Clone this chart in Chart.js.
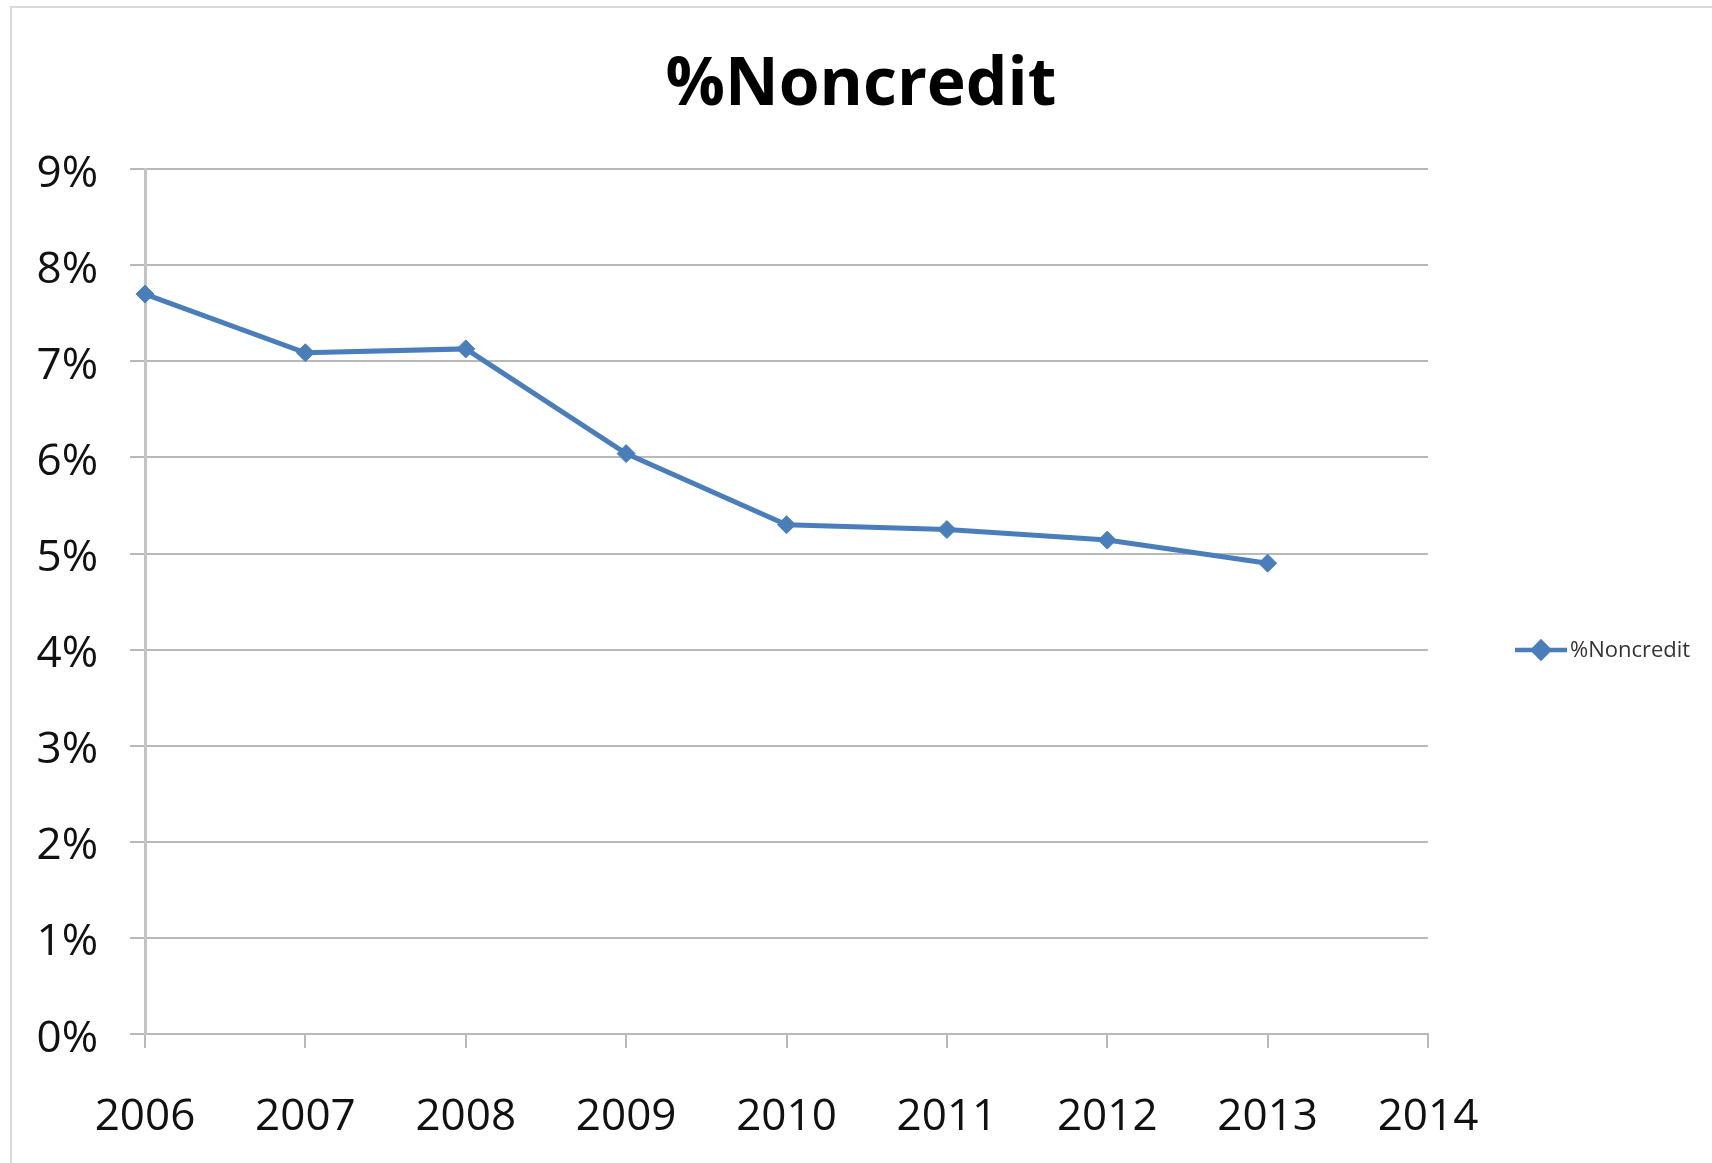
<!DOCTYPE html>
<html>
<head>
<meta charset="utf-8">
<script src="https://cdn.jsdelivr.net/npm/chart.js@4/dist/chart.umd.min.js"></script>
<style>
  html, body { margin: 0; padding: 0; background: #fff; }
  #wrap { position: relative; width: 1712px; height: 1163px; overflow: hidden; }
  #frame {
    position: absolute; left: 10px; top: 6px; width: 1800px; height: 1300px;
    border-left: 2px solid #d9d9d9; border-top: 2px solid #d9d9d9;
  }
  canvas { position: absolute; left: 0; top: 0; }
</style>
</head>
<body>
<div id="wrap">
  <div id="frame"></div>
  <canvas id="chart" width="1712" height="1163"></canvas>
</div>
<script>
/* %Noncredit — single line series, 2006–2014 */

const years = ['2006', '2007', '2008', '2009', '2010', '2011', '2012', '2013', '2014'];
const noncreditPct = [7.70, 7.09, 7.13, 6.04, 5.30, 5.25, 5.14, 4.90, null];
const yMin = 0;
const yMax = 9;
const yStep = 1;

const FONT = "'Open Sans', 'DejaVu Sans', sans-serif";
const BLUE = '#4a7ebb';
const GRID = '#b9b9b9';

// Excel-style legend as a right-hand layout box: line + diamond + label
const sideLegend = {
  id: 'sideLegend',
  beforeInit(chart) {
    const box = {
      position: 'right',
      weight: 0,
      fullSize: false,
      options: {},
      left: 0, top: 0, right: 0, bottom: 0, width: 0, height: 0,
      update(maxWidth, maxHeight) {
        this.width = 284;
        this.height = maxHeight;
      },
      isHorizontal() { return false; },
      getPadding() { return { left: 0, top: 0, right: 0, bottom: 0 }; },
      draw() {
        const ctx = chart.ctx;
        const ds = chart.data.datasets[0];
        const y = 650;
        const x0 = this.left + 87, x1 = x0 + 52;
        ctx.save();
        ctx.strokeStyle = ds.borderColor;
        ctx.lineWidth = 4.5;
        ctx.beginPath();
        ctx.moveTo(x0, y);
        ctx.lineTo(x1, y);
        ctx.stroke();
        ctx.fillStyle = ds.borderColor;
        Chart.helpers.drawPoint(ctx, { pointStyle: 'rectRot', radius: 8, borderWidth: 1 }, (x0 + x1) / 2, y);
        ctx.fill();
        ctx.fillStyle = '#333';
        ctx.font = `22px ${FONT}`;
        ctx.textBaseline = 'middle';
        ctx.textAlign = 'left';
        ctx.fillText(ds.label, x1 + 3, y + 1);
        ctx.restore();
      },
    };
    Chart.layouts.addBox(chart, box);
  },
};

new Chart(document.getElementById('chart').getContext('2d'), {
  type: 'line',
  data: {
    labels: years,
    datasets: [{
      label: '%Noncredit',
      data: noncreditPct,
      borderColor: BLUE,
      backgroundColor: BLUE,
      borderWidth: 5,
      tension: 0,
      pointStyle: 'rectRot',
      pointRadius: 9,
      pointBorderWidth: 1,
      spanGaps: false,
    }],
  },
  options: {
    responsive: false,
    animation: false,
    layout: { padding: { left: 10, right: 0, top: 0, bottom: 0 } },
    plugins: {
      legend: { display: false },
      tooltip: { enabled: false },
      title: {
        display: true,
        text: '%Noncredit',
        color: '#000',
        font: { family: FONT, size: 66, weight: 'bold' },
        padding: { top: 47, bottom: 43 },
      },
    },
    scales: {
      x: {
        offset: false,
        afterFit: s => { s.height = 129; },
        grid: {
          drawOnChartArea: false,
          drawTicks: true,
          tickLength: 14,
          color: GRID,
          lineWidth: 2,
        },
        border: { display: true, color: GRID, width: 2 },
        ticks: {
          color: '#111',
          font: { family: FONT, size: 44 },
          padding: 43,
          maxRotation: 0,
          autoSkip: false,
        },
      },
      y: {
        min: yMin,
        max: yMax,
        afterFit: s => { s.width = 135; },
        grid: { color: GRID, lineWidth: 2, tickLength: 15 },
        border: { display: true, color: '#c4c4c4', width: 3 },
        ticks: {
          stepSize: yStep,
          color: '#111',
          font: { family: FONT, size: 44 },
          padding: 32,
          labelOffset: 5,
          callback: v => v + '%',
        },
      },
    },
  },
  plugins: [sideLegend],
});
</script>
</body>
</html>
